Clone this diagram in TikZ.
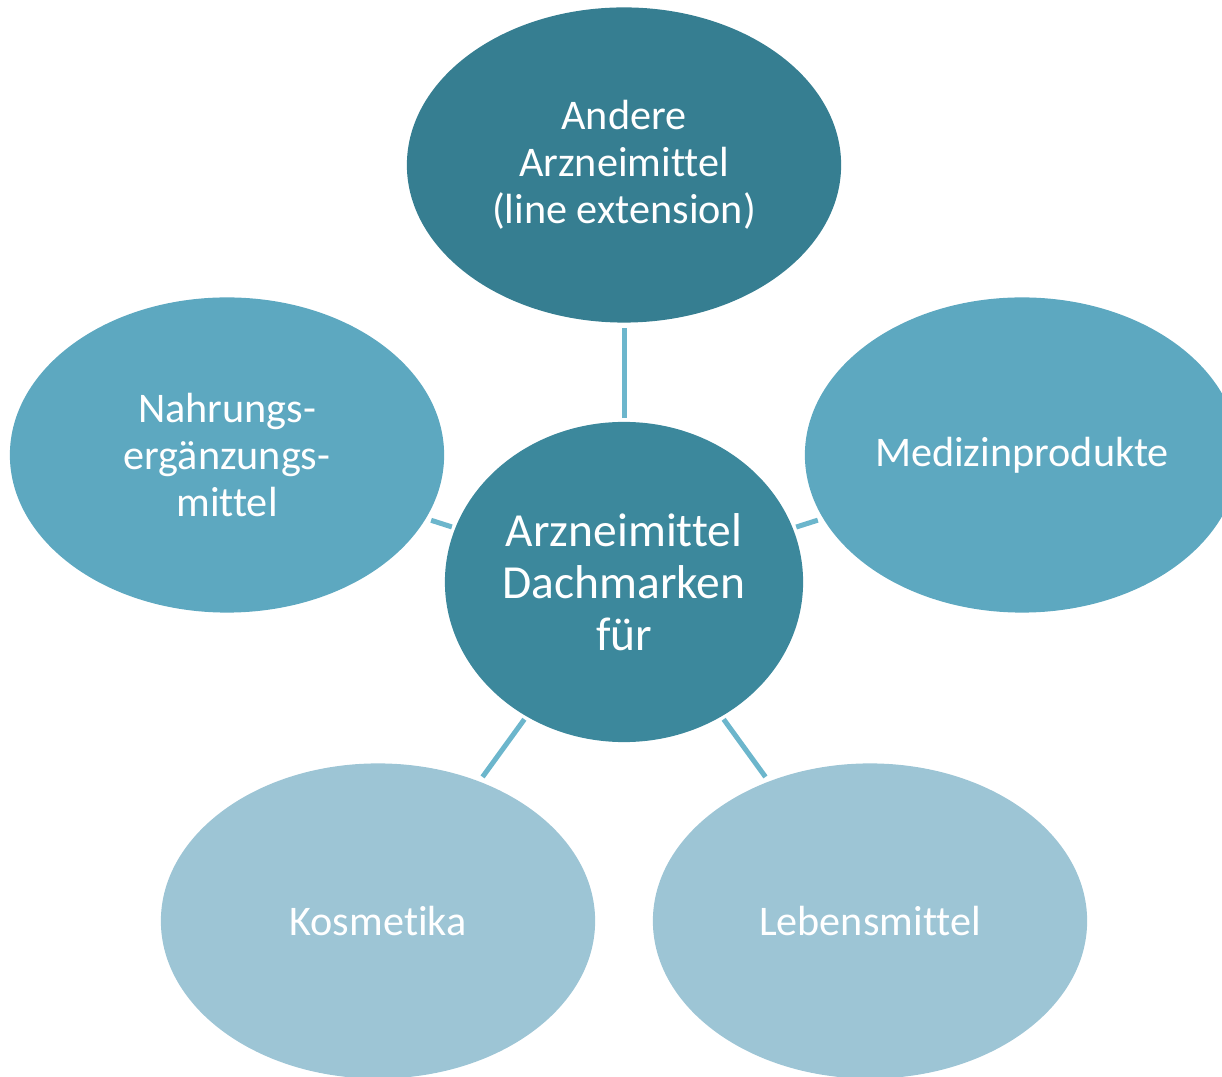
\documentclass[tikz,border=0pt]{standalone}
\usepackage{fontspec}
\setmainfont[Ligatures={NoCommon}]{Carlito}
\definecolor{dunkel}{HTML}{367E91}
\definecolor{mitte}{HTML}{3C889C}
\definecolor{hell}{HTML}{5DA8C0}
\definecolor{blass}{HTML}{9DC5D5}
\definecolor{linie}{HTML}{6CB6CC}
\tikzset{
  blase/.style={ellipse, minimum width=4.34cm, minimum height=3.15cm, inner sep=0pt,
    text=white, align=center, font=\fontsize{12}{13.4}\selectfont},
  verbinder/.style={draw=linie, line width=0.5mm, shorten <=0.3mm, shorten >=0.5mm}
}
\usetikzlibrary{shapes.geometric}
\begin{document}
\begin{tikzpicture}[x=0.01cm, y=-0.01cm]
    % Rahmen des Bildes
    \useasboundingbox (0,0) rectangle (1222,1077);
    \clip (0,0) rectangle (1222,1077);

    % Mitte
    \node[blase, fill=mitte, minimum width=3.58cm, minimum height=3.2cm,
      font=\fontsize{13.5}{14.8}\selectfont] (dach) at (624,582) {Arzneimittel\\Dachmarken\\f\"ur};

    % Aeussere Kreise
    \node[blase, fill=dunkel] (andere) at (624,165) {Andere\\Arzneimittel\\(line extension)};
    \node[blase, fill=hell] (nahrung) at (227,455) {Nahrungs-\\erg\"anzungs-\\mittel};
    \node[blase, fill=hell] (medizin) at (1022,455) {Medizinprodukte};
    \node[blase, fill=blass] (kosmetik) at (378,921) {Kosmetika};
    \node[blase, fill=blass] (lebens) at (870,921) {Lebensmittel};

    % Verbindungen
    \draw[verbinder] (dach) -- (andere);
    \draw[verbinder] (dach) -- (nahrung);
    \draw[verbinder] (dach) -- (medizin);
    \draw[verbinder] (dach) -- (kosmetik);
    \draw[verbinder] (dach) -- (lebens);
\end{tikzpicture}
\end{document}
